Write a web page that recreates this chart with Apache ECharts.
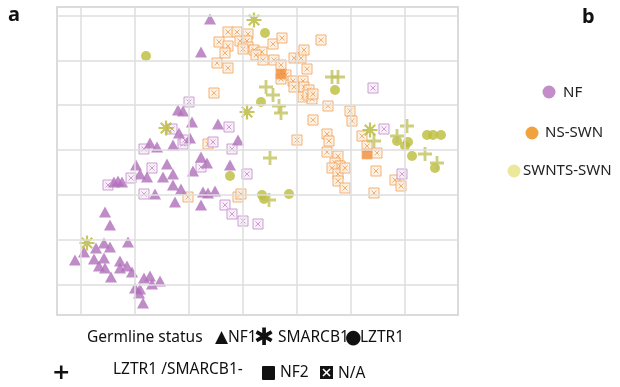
<!DOCTYPE html>
<html>
<head>
<meta charset="utf-8">
<script src="https://cdn.jsdelivr.net/npm/echarts@6/dist/echarts.min.js"></script>
<style>html,body{margin:0;padding:0;background:#fff}#c{width:620px;height:387px}</style>
</head>
<body>
<div id="c"></div>
<script>
// Plot units: arbitrary embedding coordinates (x: 0..401, y: 0..308)
var nfTriangles = [[153,296],[144,263],[121,205],[126,204],[135,193],[161,191],[122,182],[133,177],[181,175],[93,172],[100,168],[116,170],[144,158],[79,150],[83,141],[110,151],[106,138],[116,141],[116,130],[124,126],[136,144],[150,152],[173,150],[57,133],[61,134],[65,133],[98,121],[118,113],[144,110],[146,123],[151,122],[158,124],[48,103],[53,90],[71,73],[18,55],[27,63],[39,67],[47,72],[53,68],[37,56],[47,57],[42,49],[48,47],[54,38],[63,54],[63,47],[70,49],[75,43],[78,27],[83,26],[87,37],[93,39],[95,31],[103,34],[86,12],[82,22],[90,138]];
var nfNA = [[132,213],[115,186],[126,171],[128,175],[87,166],[156,173],[172,188],[175,166],[95,147],[74,137],[51,130],[87,121],[144,148],[190,141],[168,110],[175,101],[186,94],[201,91],[345,141],[316,227],[327,186]];
var nsNA = [[171,283],[180,283],[191,281],[162,273],[171,269],[183,274],[190,274],[191,268],[186,266],[197,265],[205,263],[199,260],[206,255],[168,262],[160,252],[171,247],[216,271],[225,277],[217,255],[224,250],[229,240],[224,236],[237,257],[244,257],[247,265],[250,246],[236,234],[246,234],[237,228],[247,228],[252,225],[246,218],[251,220],[255,216],[256,221],[157,222],[264,275],[240,175],[256,195],[151,171],[271,209],[293,204],[295,194],[270,181],[272,174],[270,163],[281,159],[305,179],[310,169],[320,162],[278,152],[283,149],[275,147],[281,141],[288,147],[281,134],[288,127],[319,144],[338,135],[344,129],[317,122],[131,118],[181,118],[184,121]];
var nsNF2 = [[224,241],[310,161]];
var swnCircles = [[89,259],[208,282],[204,213],[278,225],[340,174],[348,169],[351,173],[355,159],[370,180],[376,180],[384,180],[378,147],[173,139],[205,120],[207,116],[232,121]];
var swnAsterisks = [[197,295],[109,187],[190,203],[313,185],[30,72]];
var swnPlus = [[209,228],[216,220],[222,209],[224,202],[275,238],[281,238],[213,157],[212,115],[350,189],[340,179],[317,174],[368,161],[380,152]];
var gridX = [24,78,132,186,240,294,348];
var gridY = [30,75,120,165,210,254,299];
var groupLegend = ['NF','NS-SWN','SWNTS-SWN'];

var NA_PATH = 'path://M0,0L10,0L10,10L0,10Z M2.5,2.5L7.5,7.5 M7.5,2.5L2.5,7.5';
var PLUS_PATH = 'path://M4,0L6,0L6,4L10,4L10,6L6,6L6,10L4,10L4,6L0,6L0,4L4,4Z';
var AST_PATH = 'path://M5,0L5,10 M0,5L10,5 M1.5,1.5L8.5,8.5 M8.5,1.5L1.5,8.5';

var gridLineData = gridX.map(function(v){return {xAxis:v};}).concat(gridY.map(function(v){return {yAxis:v};}));

var chart = echarts.init(document.getElementById('c'), null, {renderer:'canvas'});
var font = 'Noto Sans, Open Sans, sans-serif';
chart.setOption({
  animation:false,
  grid:{left:57, top:7, width:401, height:308, show:true, borderColor:'#cfcfcf', borderWidth:1.5, backgroundColor:'#fff'},
  xAxis:{type:'value', min:0, max:401, show:false, splitLine:{show:false}},
  yAxis:{type:'value', min:0, max:308, show:false, splitLine:{show:false}},
  series:[
    {type:'scatter', data:[], silent:true,
      markLine:{silent:true, symbol:'none', label:{show:false}, animation:false,
        lineStyle:{color:'#dedede', width:1.5, type:'solid'}, data:gridLineData}},
    {type:'scatter', name:'NS N/A', data:nsNA, symbol:NA_PATH, symbolSize:10,
      itemStyle:{color:'#fdeedd', borderColor:'#f0a055', borderWidth:1}},
    {type:'scatter', name:'NS NF2', data:nsNF2, symbol:'rect', symbolSize:10,
      itemStyle:{color:'#f08a35', borderColor:'#f5b070', borderWidth:1}},
    {type:'scatter', name:'NF N/A', data:nfNA, symbol:NA_PATH, symbolSize:10,
      itemStyle:{color:'#f6ebf6', borderColor:'#c08ac8', borderWidth:1}},
    {type:'scatter', name:'NF1', data:nfTriangles, symbol:'triangle', symbolSize:[12,11],
      itemStyle:{color:'#b06fba'}},
    {type:'scatter', name:'LZTR1', data:swnCircles, symbol:'circle', symbolSize:10,
      itemStyle:{color:'#bdbd3c'}},
    {type:'scatter', name:'LZTR1/SMARCB1-', data:swnPlus, symbol:PLUS_PATH, symbolSize:14,
      itemStyle:{color:'#c0c25e'}},
    {type:'scatter', name:'SMARCB1', data:swnAsterisks, symbol:AST_PATH, symbolSize:15,
      itemStyle:{color:'#b8b838', borderColor:'#b8b838', borderWidth:2.2}}
  ],
  graphic:[
    {type:'text', left:8, top:5, style:{text:'a', font:'bold 20px '+font, fill:'#111'}},
    {type:'text', left:582, top:7, style:{text:'b', font:'bold 20px '+font, fill:'#111'}},
    {type:'circle', shape:{cx:549, cy:92, r:6.5}, style:{fill:'#c48cc8'}},
    {type:'text', x:563, y:93, style:{text:groupLegend[0], font:'15px '+font, fill:'#222', verticalAlign:'middle'}},
    {type:'circle', shape:{cx:532, cy:133, r:6.5}, style:{fill:'#f0a23e'}},
    {type:'text', x:545, y:133, style:{text:groupLegend[1], font:'15px '+font, fill:'#222', verticalAlign:'middle'}},
    {type:'circle', shape:{cx:514, cy:171, r:6.5}, style:{fill:'#ebe89a'}},
    {type:'text', x:523, y:171, style:{text:groupLegend[2], font:'15px '+font, fill:'#222', verticalAlign:'middle'}},

    {type:'text', x:87, y:338, style:{text:'Germline status', font:'15.5px '+font, fill:'#111', verticalAlign:'middle'}},
    {type:'text', x:215, y:338, style:{text:'\u25B2', font:'17px DejaVu Sans', fill:'#111', verticalAlign:'middle'}},
    {type:'text', x:228, y:338, style:{text:'NF1', font:'15.5px '+font, fill:'#111', verticalAlign:'middle'}},
    {type:'text', x:254, y:339, style:{text:'\u2731', font:'24px DejaVu Sans', fill:'#111', verticalAlign:'middle'}},
    {type:'text', x:278, y:338, style:{text:'SMARCB1', font:'15.5px '+font, fill:'#111', verticalAlign:'middle'}},
    {type:'text', x:345, y:338, style:{text:'\u25CF', font:'19px DejaVu Sans', fill:'#111', verticalAlign:'middle'}},
    {type:'text', x:360, y:338, style:{text:'LZTR1', font:'15.5px '+font, fill:'#111', verticalAlign:'middle'}},

    {type:'text', x:52, y:373, style:{text:'+', font:'bold 22px DejaVu Sans', fill:'#111', verticalAlign:'middle'}},
    {type:'text', x:113, y:370, style:{text:'LZTR1 /SMARCB1-', font:'15.5px '+font, fill:'#111', verticalAlign:'middle'}},
    {type:'rect', shape:{x:262, y:366, width:13, height:14, r:1}, style:{fill:'#111'}},
    {type:'text', x:280, y:373, style:{text:'NF2', font:'15.5px '+font, fill:'#111', verticalAlign:'middle'}},
    {type:'rect', shape:{x:320, y:366, width:13, height:13}, style:{fill:'#111'}},
    {type:'polyline', shape:{points:[[323,369],[330,376]]}, style:{stroke:'#fff', lineWidth:1.6}},
    {type:'polyline', shape:{points:[[330,369],[323,376]]}, style:{stroke:'#fff', lineWidth:1.6}},
    {type:'text', x:338, y:374, style:{text:'N/A', font:'15.5px '+font, fill:'#111', verticalAlign:'middle'}}
  ]
});
</script>
</body>
</html>
